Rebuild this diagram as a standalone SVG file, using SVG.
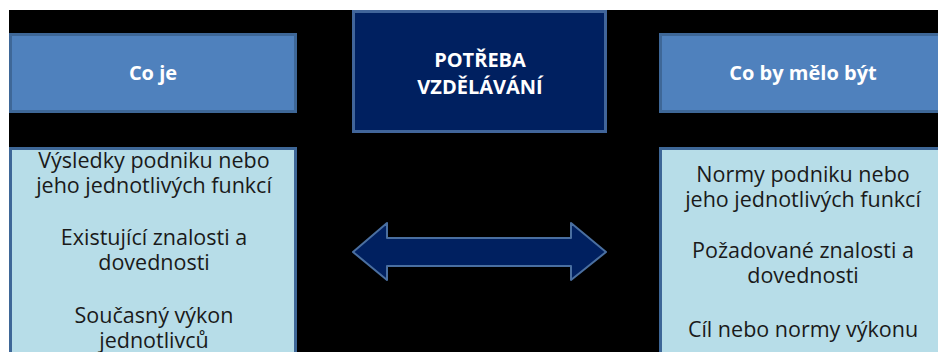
<svg xmlns="http://www.w3.org/2000/svg" width="938" height="352" viewBox="0 0 938 352">
<style>
.hdr{fill:#4F81BD;stroke:#3E6797;stroke-width:3}
.body{fill:#B7DDE8;stroke:#3E6797;stroke-width:3}
.ctr{fill:#002060;stroke:#41659A;stroke-width:3}
.ht{font-family:"Open Sans","DejaVu Sans",sans-serif;font-weight:bold;font-size:20px;fill:#FFFFFF;text-anchor:middle}
.bt{font-family:"Open Sans","DejaVu Sans",sans-serif;font-size:21.5px;fill:#1A1A1A;text-anchor:middle}
</style>
<rect x="0" y="0" width="938" height="352" fill="#FFFFFF"/>
<rect x="9" y="10" width="929" height="342" fill="#000000"/>
<g id="co-je">
<rect class="hdr" x="10.5" y="34.5" width="285" height="77"/>
<text class="ht" x="153" y="80">Co je</text>
</g>
<g id="potreba">
<rect class="ctr" x="353.5" y="11.5" width="252" height="120"/>
<text class="ht" x="480" y="67">POTŘEBA</text>
<text class="ht" x="480" y="94">VZDĚLÁVÁNÍ</text>
</g>
<g id="co-by">
<rect class="hdr" x="660.5" y="34.5" width="285" height="77"/>
<text class="ht" x="803" y="80">Co by mělo být</text>
</g>
<g id="stav">
<rect class="body" x="10.5" y="148.5" width="285" height="220"/>
<text class="bt" x="154" y="168">Výsledky podniku nebo</text>
<text class="bt" x="154" y="193">jeho jednotlivých funkcí</text>
<text class="bt" x="154" y="245">Existující znalosti a</text>
<text class="bt" x="154" y="270">dovednosti</text>
<text class="bt" x="154" y="323">Současný výkon</text>
<text class="bt" x="154" y="348">jednotlivců</text>
</g>
<g id="cil">
<rect class="body" x="660.5" y="148.5" width="285" height="220"/>
<text class="bt" x="803" y="182">Normy podniku nebo</text>
<text class="bt" x="803" y="207">jeho jednotlivých funkcí</text>
<text class="bt" x="803" y="258">Požadované znalosti a</text>
<text class="bt" x="803" y="283">dovednosti</text>
<text class="bt" x="803" y="337">Cíl nebo normy výkonu</text>
</g>
<g id="connectors">
<path d="M353,252 L387,223 L387,238 L571,238 L571,223 L606,252 L571,280 L571,266 L387,266 L387,280 Z" fill="#002060" stroke="#4A6FA0" stroke-width="2" stroke-linejoin="round"/>
</g>
</svg>
